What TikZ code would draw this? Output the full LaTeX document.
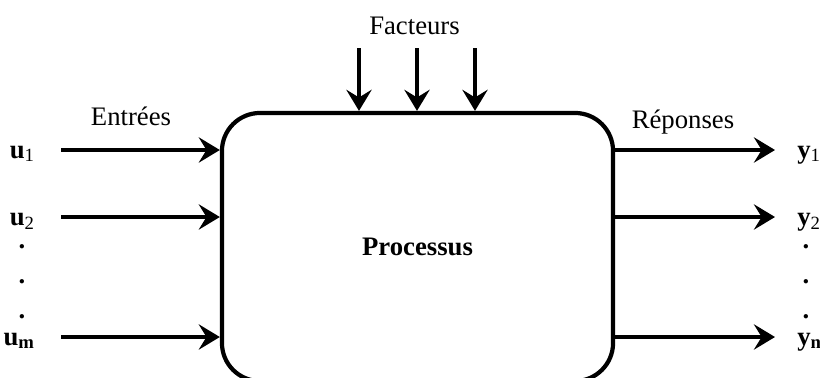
\documentclass[tikz,border=0pt]{standalone}
\usepackage{fontspec}
\setmainfont{Liberation Serif}
\usetikzlibrary{arrows.meta, positioning, calc}

\begin{document}
\begin{tikzpicture}[x=0.025cm, y=-0.025cm,
  font=\fontsize{19}{23}\selectfont,
  flow/.style={line width=3pt, -{Stealth[length=15pt, width=18pt, inset=5.5pt]}},
  lab/.style={inner sep=0pt}]
\useasboundingbox (0,0) rectangle (820,377);

\node[draw, line width=3pt, rounded corners=0.95cm, minimum width=9.775cm,
      minimum height=6.7cm, inner sep=0pt, font=\fontsize{19}{23}\selectfont\bfseries]
      (proc) at (417.5,247) {Processus};

\coordinate (in1) at (61,150);
\coordinate (in2) at (61,217);
\coordinate (inm) at (61,337);
\coordinate (out1) at (775,150);
\coordinate (out2) at (775,217);
\coordinate (outn) at (775,337);
\coordinate (f1) at (359,48);
\coordinate (f2) at (417,48);
\coordinate (f3) at (475,48);

\node[lab, anchor=base east] (u1) at ($(in1)+(-26,8)$) {\textbf{u}\textsubscript{1}};
\node[lab, anchor=base east] (u2) at ($(in2)+(-26,8)$) {\textbf{u}\textsubscript{2}};
\node[lab, anchor=base east] (um) at ($(inm)+(-26,8)$) {\textbf{u\textsubscript{m}}};
\node[lab, anchor=base west] (y1) at ($(out1)+(22,8)$) {\textbf{y}\textsubscript{1}};
\node[lab, anchor=base west] (y2) at ($(out2)+(22,8)$) {\textbf{y}\textsubscript{2}};
\node[lab, anchor=base west] (yn) at ($(outn)+(22,8)$) {\textbf{y\textsubscript{n}}};

\foreach \y [count=\i] in {248.5,283.5,318.5} {
  \node[lab, anchor=base] (udot\i) at (22,\y) {\textbf{.}};
  \node[lab, anchor=base] (ydot\i) at (806,\y) {\textbf{.}};
}

\node[anchor=base] (entrees) at (131,125) {Entrées};
\node[anchor=base] (reponses) at (683,128) {Réponses};
\node[anchor=base] (facteurs) at (414.5,34) {Facteurs};

\draw[flow] (in1) -- (in1 -| proc.west);
\draw[flow] (in2) -- (in2 -| proc.west);
\draw[flow] (inm) -- (inm -| proc.west);
\draw[flow] (out1 -| proc.east) -- (out1);
\draw[flow] (out2 -| proc.east) -- (out2);
\draw[flow] (outn -| proc.east) -- (outn);
\foreach \f in {f1,f2,f3}
  \draw[flow] (\f) -- (\f |- proc.north);
\end{tikzpicture}
\end{document}
